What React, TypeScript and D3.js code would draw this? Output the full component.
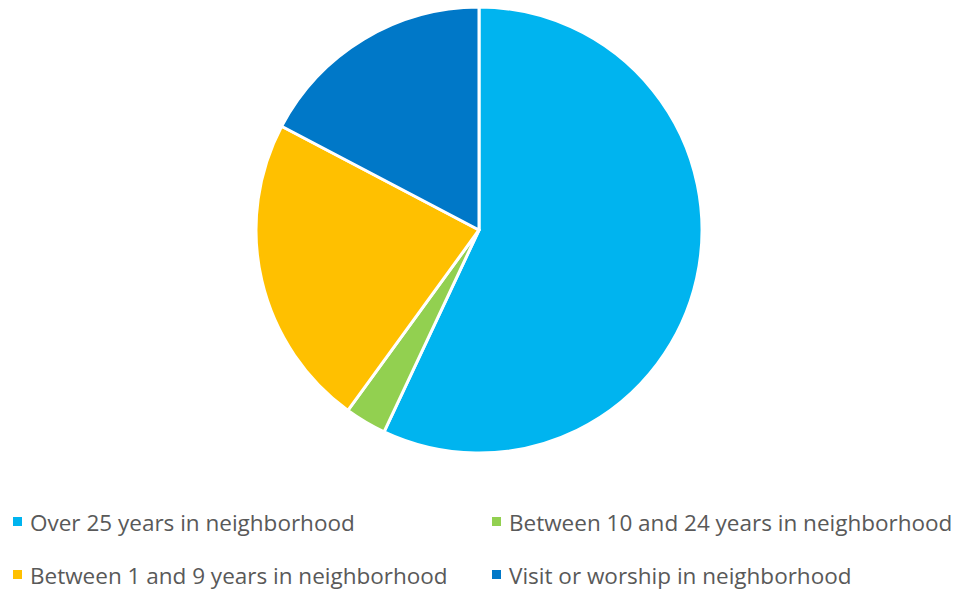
import React from "react";
import * as d3 from "d3";

const categories = [
  "Over 25 years in neighborhood",
  "Between 10 and 24 years in neighborhood",
  "Between 1 and 9 years in neighborhood",
  "Visit or worship in neighborhood",
];
const values = [57, 3, 22.7, 17.3];
const colors = ["#00B4EF", "#92D050", "#FFC000", "#0078C8"];

export default function App() {
  const W = 966, H = 592;
  const cx = 479, cy = 230, r = 223;
  const pie = d3.pie<number>().sort(null).value((d) => d)(values);
  const arc = d3.arc<d3.PieArcDatum<number>>().innerRadius(0).outerRadius(r);
  const legendPos = [
    { x: 13, y: 531 },
    { x: 492, y: 531 },
    { x: 13, y: 584 },
    { x: 492, y: 584 },
  ];
  return (
    <svg width={W} height={H} style={{ position: "absolute", left: 0, top: 0, background: "#fff" }}>
      <g transform={`translate(${cx},${cy})`}>
        {pie.map((p, i) => (
          <path key={i} d={arc(p) || ""} fill={colors[i]} stroke="#fff" strokeWidth={3} strokeLinejoin="round" />
        ))}
      </g>
      {categories.map((c, i) => (
        <g key={c} transform={`translate(${legendPos[i].x},${legendPos[i].y})`}>
          <rect x={0} y={-14} width={9} height={9} fill={colors[i]} />
          <text x={17} y={0} fontFamily="Open Sans, sans-serif" fontSize={22.5} fill="#595959">
            {c}
          </text>
        </g>
      ))}
    </svg>
  );
}
